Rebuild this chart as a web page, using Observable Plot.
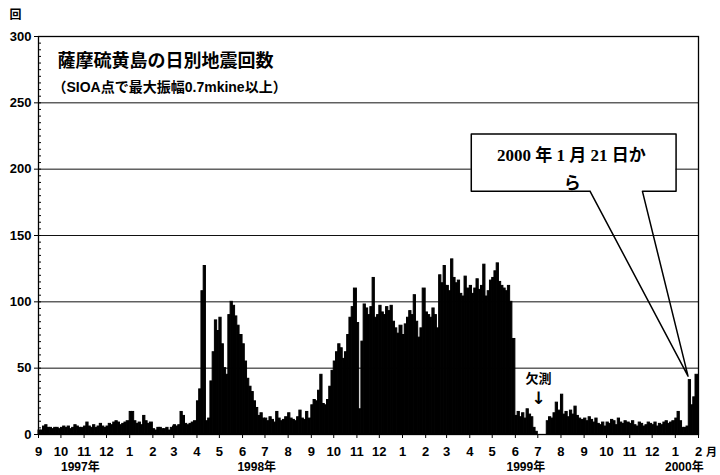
<!DOCTYPE html>
<html><head><meta charset="utf-8">
<script src="https://cdn.jsdelivr.net/npm/d3@7"></script>
<script src="https://cdn.jsdelivr.net/npm/@observablehq/plot@0.6"></script>
<style>body{margin:0;background:#fff}svg{display:block}</style>
</head><body><div id="chart"></div>
<script>
// ---- data: daily earthquake counts, read in 3-day bins (bins start on days 1,4,...,28 of each month)
const firstMonth = [1997, 8]; // Sep 1997 (UTC month index)
const binStartDays = [1, 4, 7, 10, 13, 16, 19, 22, 25, 28];
const counts1997 = [ // Sep..Dec
  3,3,6,7,5,5,4,5,5,4,
  5,6,5,6,4,5,7,6,5,5,
  6,9,6,5,7,5,6,8,6,5,
  6,8,7,9,10,9,7,8,9,10
];
const counts1998 = [ // Jan..Dec
  17,17,10,8,9,7,14,10,8,9,
  4,3,5,5,4,4,5,3,5,6,
  7,6,7,17,14,8,7,8,9,10,
  25,34,108,127,10,12,40,62,86,78,
  88,68,50,45,90,100,97,89,82,75,
  68,55,42,36,32,25,20,14,16,12,
  12,10,13,11,9,17,12,10,11,13,
  16,12,11,10,13,18,12,11,17,12,
  22,26,25,33,45,23,22,26,36,48,
  55,62,68,65,57,62,75,88,96,110,
  84,19,70,98,95,90,96,118,88,90,
  97,92,90,96,93,97,85,80,76,82
];
const counts1999 = [ // Jan..Dec (null = 欠測)
  75,83,88,93,90,105,85,73,80,110,
  92,90,88,95,90,80,120,114,127,112,
  112,108,132,118,114,116,106,104,119,110,
  112,106,110,117,109,112,128,104,108,116,
  118,123,129,115,112,110,108,112,100,72,
  14,17,13,16,12,19,15,13,5,2,
  null,null,null,null,10,13,12,16,24,18,
  30,15,17,13,18,15,21,14,12,11,
  12,10,13,11,9,12,8,7,9,6,
  9,8,11,10,7,12,9,8,10,9,
  8,10,7,6,9,8,6,7,9,8,
  7,9,6,8,7,9,10,8,9,10
];
const counts2000 = [ // Jan
  12,17,10,5,5,6,41,22,28,45
];
const monthTickLabels = [9,10,11,12,1,2,3,4,5,6,7,8,9,10,11,12,1,2,3,4,5,6,7,8,9,10,11,12,1,2];
const yTicks = [0, 50, 100, 150, 200, 250, 300];
const gridValues = [50, 100, 150, 200, 250];
const yearLabels = [
  {date: "1997-10-27", label: "1997年"},
  {date: "1998-06-20", label: "1998年"},
  {date: "1999-06-15", label: "1999年"},
  {date: "2000-01-13", label: "2000年"}
];
const titleText = "薩摩硫黄島の日別地震回数";
const subtitleText = "（SIOA点で最大振幅0.7mkine以上）";
const calloutLines = [
  {date: "1999-08-15", value: 210, text: "2000 年 1 月 21 日か"},
  {date: "1999-08-16", value: 189, text: "ら"}
];
const calloutBox = {left: "1999-04-03", right: "2000-01-02", top: 226.6, bottom: 183.3};
const calloutTail = {baseLeft: "1999-09-09", baseRight: "1999-11-18", tipDate: "2000-01-18", tipValue: 44};
const missingNote = {date: "1999-07-02", label: "欠測", arrowValue: 27, labelValue: 42};

// ---- build rows
const allCounts = [...counts1997, ...counts1998, ...counts1999, ...counts2000];
const rows = [];
allCounts.forEach((v, i) => {
  const mi = Math.floor(i / binStartDays.length), k = i % binStartDays.length;
  const y = firstMonth[0], m = firstMonth[1] + mi;
  const start = new Date(Date.UTC(y, m, binStartDays[k]));
  const end = k < binStartDays.length - 1 ? new Date(Date.UTC(y, m, binStartDays[k + 1])) : new Date(Date.UTC(y, m + 1, 1));
  if (v != null) rows.push({start, end, count: v});
});
const D = s => new Date(s + "T00:00:00Z");
const xDomain = [new Date(Date.UTC(1997, 8, 1)), new Date(Date.UTC(2000, 1, 1))];
const monthTicks = d3.utcMonth.range(xDomain[0], new Date(Date.UTC(2000, 1, 2)));

const calloutPath = [
  {date: D(calloutTail.baseLeft), value: calloutBox.bottom},
  {date: D(calloutBox.left), value: calloutBox.bottom},
  {date: D(calloutBox.left), value: calloutBox.top},
  {date: D(calloutBox.right), value: calloutBox.top},
  {date: D(calloutBox.right), value: calloutBox.bottom},
  {date: D(calloutTail.baseRight), value: calloutBox.bottom},
  {date: D(calloutTail.tipDate), value: calloutTail.tipValue},
  {date: D(calloutTail.baseLeft), value: calloutBox.bottom}
];

const sans = "'Liberation Sans', 'Noto Sans CJK JP', sans-serif";
const serif = "'Liberation Serif', 'Noto Sans CJK JP', serif";

const chart = Plot.plot({
  width: 720, height: 475,
  marginLeft: 38, marginRight: 22, marginTop: 36, marginBottom: 41,
  style: {fontFamily: sans, fontWeight: "bold", fontSize: "13px", color: "#000", background: "#fff"},
  x: {type: "utc", domain: xDomain},
  y: {domain: [0, 300]},
  marks: [
    Plot.ruleY(gridValues, {stroke: "#111", strokeWidth: 1}),
    Plot.rectY(rows, {x1: "start", x2: "end", y: "count", fill: "#000", stroke: "#000", strokeWidth: 1, strokeLinejoin: "miter"}),
    Plot.rect([calloutBox], {x1: d => D(d.left), x2: d => D(d.right), y1: "bottom", y2: "top", fill: "#fff"}),
    Plot.line(calloutPath, {x: "date", y: "value", stroke: "#000", strokeWidth: 1.5, curve: "linear"}),
    Plot.text(calloutLines, {x: d => D(d.date), y: "value", text: "text", fontFamily: serif, fontWeight: "bold", fontSize: 17, fill: "#000"}),
    Plot.text([titleText], {frameAnchor: "top-left", textAnchor: "start", lineAnchor: "middle", dx: 19, dy: 25, text: d => d, fontSize: 18, fontWeight: "bold", fontFamily: sans}),
    Plot.text([subtitleText], {frameAnchor: "top-left", textAnchor: "start", lineAnchor: "middle", dx: 14, dy: 51, text: d => d, fontSize: 14, fontWeight: "bold", fontFamily: sans}),
    Plot.text([missingNote], {x: d => D(d.date), y: "labelValue", text: "label", fontSize: 13, fontWeight: "bold"}),
    Plot.text([missingNote], {x: d => D(d.date), y: "arrowValue", text: () => "↓", fontSize: 17, fontWeight: "bold", fontFamily: "'DejaVu Sans', sans-serif"}),
    Plot.frame({stroke: "#000", strokeWidth: 1.3}),
    Plot.axisY(yTicks, {tickSize: 4, tickPadding: 3, label: null, fontSize: 13, fontWeight: "bold"}),
    Plot.axisY(d3.range(0, 301, 5), {tickSize: -3, text: null, label: null}),
    Plot.axisX(monthTicks, {tickSize: 4, tickPadding: 8, label: null, tickFormat: (d, i) => String(monthTickLabels[i]), fontSize: 13, fontWeight: "bold"}),
    Plot.text(yearLabels, {x: d => D(d.date), frameAnchor: "bottom", text: "label", dy: 33, fontSize: 12, fontWeight: "bold", textAnchor: "middle", lineAnchor: "middle"}),
    Plot.text(["回"], {frameAnchor: "top-left", textAnchor: "middle", lineAnchor: "middle", dx: -23, dy: -21, text: d => d, fontSize: 12, fontWeight: "bold"}),
    Plot.text(["月"], {frameAnchor: "bottom-right", textAnchor: "middle", lineAnchor: "middle", dx: 13, dy: 18, text: d => d, fontSize: 11, fontWeight: "bold"})
  ]
});
document.getElementById("chart").appendChild(chart);
</script>
</body></html>
